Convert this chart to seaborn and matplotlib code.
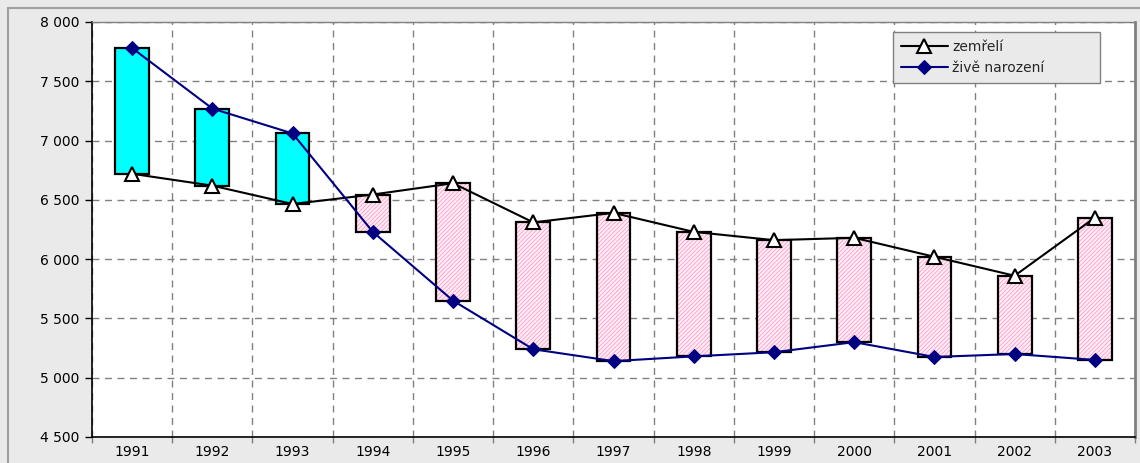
import numpy as np
import pandas as pd
import matplotlib
matplotlib.use("Agg")
import matplotlib.pyplot as plt
import seaborn as sns
from matplotlib.patches import Rectangle
from matplotlib.ticker import FixedLocator, FuncFormatter

# data
years = [1991, 1992, 1993, 1994, 1995, 1996, 1997, 1998, 1999, 2000, 2001, 2002, 2003]
zive_narozeni = [7780, 7270, 7060, 6230, 5650, 5240, 5140, 5180, 5215, 5300, 5175, 5200, 5150]
zemreli = [6720, 6620, 6465, 6545, 6640, 6310, 6390, 6230, 6160, 6180, 6020, 5860, 6350]
y_ticks = [4500, 5000, 5500, 6000, 6500, 7000, 7500, 8000]

sns.set_style("white")
plt.rcParams['font.family'] = ['DejaVu Sans']
plt.rcParams['hatch.linewidth'] = 0.6

W, H = 1140, 463
fig = plt.figure(figsize=(W / 100, H / 100), dpi=100, facecolor='#EAEAEA')
# outer chart frame
fig.patches.append(Rectangle((8 / W, -0.1), 2, 1 - 8 / H + 0.1, transform=fig.transFigure,
                             fill=False, edgecolor='#A0A0A0', lw=1.5))

ax = fig.add_axes([92 / W, 1 - 437 / H, (1135 - 92) / W, (437 - 22) / H])
ax.set_facecolor('white')

df = pd.DataFrame({'rok': years, 'narozeni': zive_narozeni, 'zemreli': zemreli})
x = np.arange(len(df))
lo = np.minimum(df['narozeni'], df['zemreli']).to_numpy()
hi = np.maximum(df['narozeni'], df['zemreli']).to_numpy()
up = (df['narozeni'] > df['zemreli']).to_numpy()
bw = 0.42

# up/down bars
ax.bar(x[up], (hi - lo)[up], bottom=lo[up], width=bw, color='#00FFFF',
       edgecolor='black', lw=1.6, zorder=2)
ax.bar(x[~up], (hi - lo)[~up], bottom=lo[~up], width=bw, color='#FFEEF5',
       edgecolor='#FF9CCB', hatch='////////', lw=0, zorder=2)
ax.bar(x[~up], (hi - lo)[~up], bottom=lo[~up], width=bw, fill=False,
       edgecolor='black', lw=1.6, zorder=2.1)

sns.lineplot(x=x, y=df['zemreli'], ax=ax, color='black', lw=1.5, marker='^',
             markersize=9.5, markerfacecolor='white', markeredgecolor='black',
             markeredgewidth=1.5, label='zemřelí', zorder=3)
sns.lineplot(x=x, y=df['narozeni'], ax=ax, color='#000080', lw=1.5, marker='D',
             markersize=7, markerfacecolor='#000080', markeredgecolor='#000080',
             label='živě narození', zorder=3)

ax.set_xlim(-0.5, len(df) - 0.5)
ax.set_ylim(4500, 8000)
ax.set_xlabel('')
ax.set_ylabel('')

ax.set_xticks(x)
ax.set_xticklabels([str(y) for y in years])
ax.xaxis.set_minor_locator(FixedLocator(np.arange(-0.5, len(df), 1.0)))
ax.tick_params(axis='x', which='major', length=0, pad=6, labelsize=10, colors='black')
ax.tick_params(axis='x', which='minor', bottom=True, length=4, width=1, color='#808080')
ax.set_yticks(y_ticks)
ax.yaxis.set_major_formatter(FuncFormatter(lambda v, p: f"{v:,.0f}".replace(',', ' ')))
ax.tick_params(axis='y', left=True, length=5, width=1, pad=4, labelsize=10, colors='black')

grid_kw = dict(color='#808080', lw=1, ls=(0, (5, 4)))
ax.grid(False)
ax.yaxis.grid(True, which='major', **grid_kw)
ax.xaxis.grid(True, which='minor', **grid_kw)
ax.set_axisbelow(True)

for side in ['left', 'bottom']:
    ax.spines[side].set_color('black')
    ax.spines[side].set_linewidth(1.2)
ax.spines['top'].set_color('#808080')
ax.spines['top'].set_linewidth(1)
ax.spines['right'].set_color('#808080')
ax.spines['right'].set_linewidth(2)

# legend box spans 893..1100 px like the reference
leg = ax.legend(loc='upper left', mode='expand',
                bbox_to_anchor=((893 - 92) / 1043, 1 - 10 / 415, 207 / 1043, 0),
                frameon=True, fancybox=False, framealpha=1, facecolor='#EAEAEA',
                edgecolor='#808080', fontsize=10, handlelength=3.4, handletextpad=0.3,
                borderpad=0.55, labelspacing=0.55, borderaxespad=0)
leg.get_frame().set_linewidth(1)

fig.savefig('out.png', dpi=100, facecolor=fig.get_facecolor())
